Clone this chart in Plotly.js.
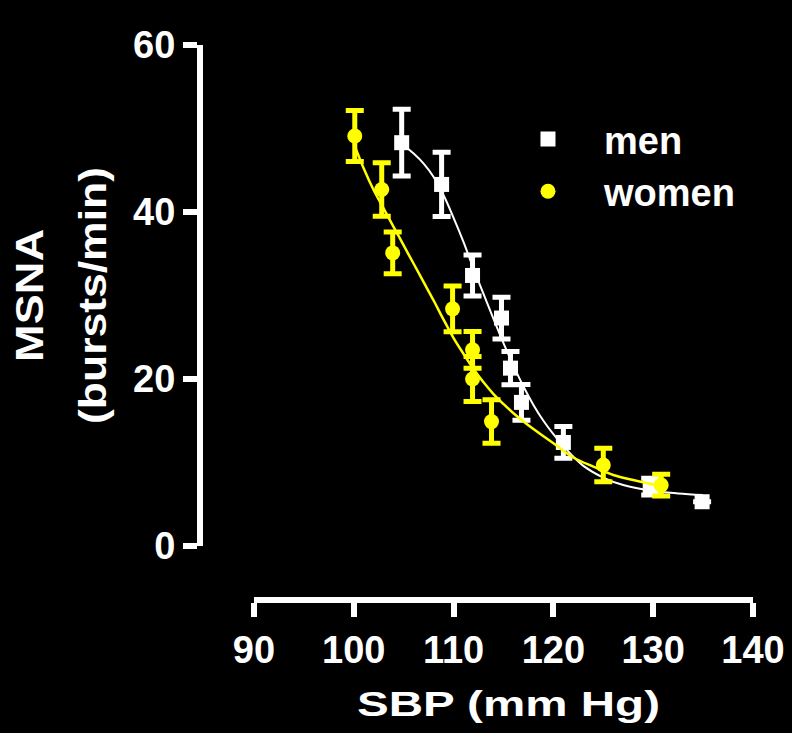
<!DOCTYPE html>
<html>
<head>
<meta charset="utf-8">
<script src="https://cdn.plot.ly/plotly-3.0.1.min.js"></script>
<style>
  html, body { margin: 0; padding: 0; background: #000; }
  #chart { width: 792px; height: 733px; }
</style>
</head>
<body>
<div id="chart"></div>
<script>
// ---- data ----
const menSBP    = [104.8, 108.8, 111.9, 114.8, 115.7, 116.8, 121.0, 129.7, 134.9];
const menMSNA   = [48.3, 43.3, 32.4, 27.3, 21.3, 17.2, 12.4, 7.1, 5.3];
const menSEM    = [4.0, 3.85, 2.45, 2.5, 2.0, 2.15, 1.9, 1.0, 0];

const womenSBP  = [100.1, 102.8, 103.9, 109.9, 111.9, 111.9, 113.8, 125.0, 130.8];
const womenMSNA = [49.1, 42.7, 35.1, 28.4, 23.5, 20.0, 14.9, 9.7, 7.3];
const womenSEM  = [3.05, 3.2, 2.5, 2.75, 2.2, 2.7, 2.6, 2.0, 1.3];

const menFitX   = [105, 106, 107, 108, 109, 110, 111, 112, 113, 114, 115, 116, 117, 118, 119, 120, 121, 122, 123, 125, 127, 130, 132.5, 135];
const menFitY   = [48.0, 47.0, 45.8, 44.2, 42.0, 39.3, 36.4, 33.2, 30.2, 27.2, 24.3, 21.6, 19.1, 16.9, 15.0, 13.4, 12.0, 10.7, 9.6, 8.2, 7.3, 6.6, 6.3, 6.1];
const womenFitX = [100, 101, 102, 103, 104, 105, 106, 107, 108, 109, 110, 111, 112, 113, 114, 115, 116, 118, 120, 122, 124, 126, 128, 131];
const womenFitY = [48.2, 45.2, 42.6, 40.4, 38.2, 36.0, 33.8, 31.6, 29.4, 27.1, 24.9, 23.0, 21.2, 19.6, 18.2, 17.0, 15.9, 14.0, 12.3, 10.6, 9.5, 8.5, 7.9, 7.1];

const xTicks = [90, 100, 110, 120, 130, 140];
const yTicks = [0, 20, 40, 60];
const seriesNames = ['men', 'women'];

const WHITE = '#ffffff';
const YELLOW = '#ffff00';
const FONT = 'Liberation Sans, Arial, Helvetica, sans-serif';

const traces = [
  { x: menFitX, y: menFitY, mode: 'lines', line: { color: WHITE, width: 2, shape: 'spline' },
    showlegend: false, hoverinfo: 'skip' },
  { x: menSBP, y: menMSNA, mode: 'markers', name: seriesNames[0],
    marker: { symbol: 'square', size: 15, color: WHITE },
    error_y: { type: 'data', array: menSEM, visible: true, color: WHITE, thickness: 5, width: 9 } },
  { x: womenFitX, y: womenFitY, mode: 'lines', line: { color: YELLOW, width: 2.5, shape: 'spline' },
    showlegend: false, hoverinfo: 'skip' },
  { x: womenSBP, y: womenMSNA, mode: 'markers', name: seriesNames[1],
    marker: { symbol: 'circle', size: 15, color: YELLOW },
    error_y: { type: 'data', array: womenSEM, visible: true, color: YELLOW, thickness: 5, width: 9 } }
];

const axisCommon = {
  showline: true, linecolor: WHITE, linewidth: 6,
  ticks: 'outside', ticklen: 14, tickwidth: 6, tickcolor: WHITE,
  showgrid: false, zeroline: false,
  tickfont: { family: FONT, size: 38, color: WHITE, weight: 'bold' },
  anchor: 'free', position: 0, fixedrange: true
};

const layout = {
  width: 792, height: 733,
  paper_bgcolor: '#000000', plot_bgcolor: '#000000',
  margin: { l: 200, r: 39, t: 45, b: 133 },
  font: { family: FONT, color: WHITE, size: 38, weight: 'bold' },
  xaxis: Object.assign({}, axisCommon, {
    range: [90, 140], domain: [0.0976, 1],
    tickvals: xTicks, ticktext: xTicks.map(String),
    title: { text: 'SBP (mm Hg)', font: { family: FONT, size: 35, color: WHITE, weight: 'bold' }, standoff: 21 }
  }),
  yaxis: Object.assign({}, axisCommon, {
    range: [0, 60], domain: [0.0973, 1],
    tickvals: yTicks, ticktext: yTicks.map(String),
    title: { text: 'MSNA<br>(bursts/min)', font: { family: FONT, size: 38, color: WHITE, weight: 'bold' }, standoff: 27 }
  }),
  showlegend: true,
  legend: {
    x: 0.528, y: 0.887, xanchor: 'left', yanchor: 'top',
    bgcolor: 'rgba(0,0,0,0)', borderwidth: 0,
    font: { family: FONT, size: 38, color: WHITE, weight: 'bold' },
    itemwidth: 102
  }
};

Plotly.newPlot('chart', traces, layout, { staticPlot: true, displayModeBar: false }).then(function (gd) {
  // the original titles are drawn with horizontally widened glyphs
  const xt = gd.querySelector('.xtitle');
  if (xt) {
    xt.setAttribute('textLength', '303');
    xt.setAttribute('lengthAdjust', 'spacingAndGlyphs');
    xt.setAttribute('x', String(parseFloat(xt.getAttribute('x')) + 5));
  }
  const yt = gd.querySelector('.ytitle');
  if (yt) {
    const lines = yt.querySelectorAll('tspan.line');
    const lens = [133, 257];
    lines.forEach(function (t, i) {
      t.setAttribute('textLength', String(lens[i] || 0));
      t.setAttribute('lengthAdjust', 'spacingAndGlyphs');
      if (i === 1) t.setAttribute('dy', '63');
    });
  }
});
</script>
</body>
</html>
